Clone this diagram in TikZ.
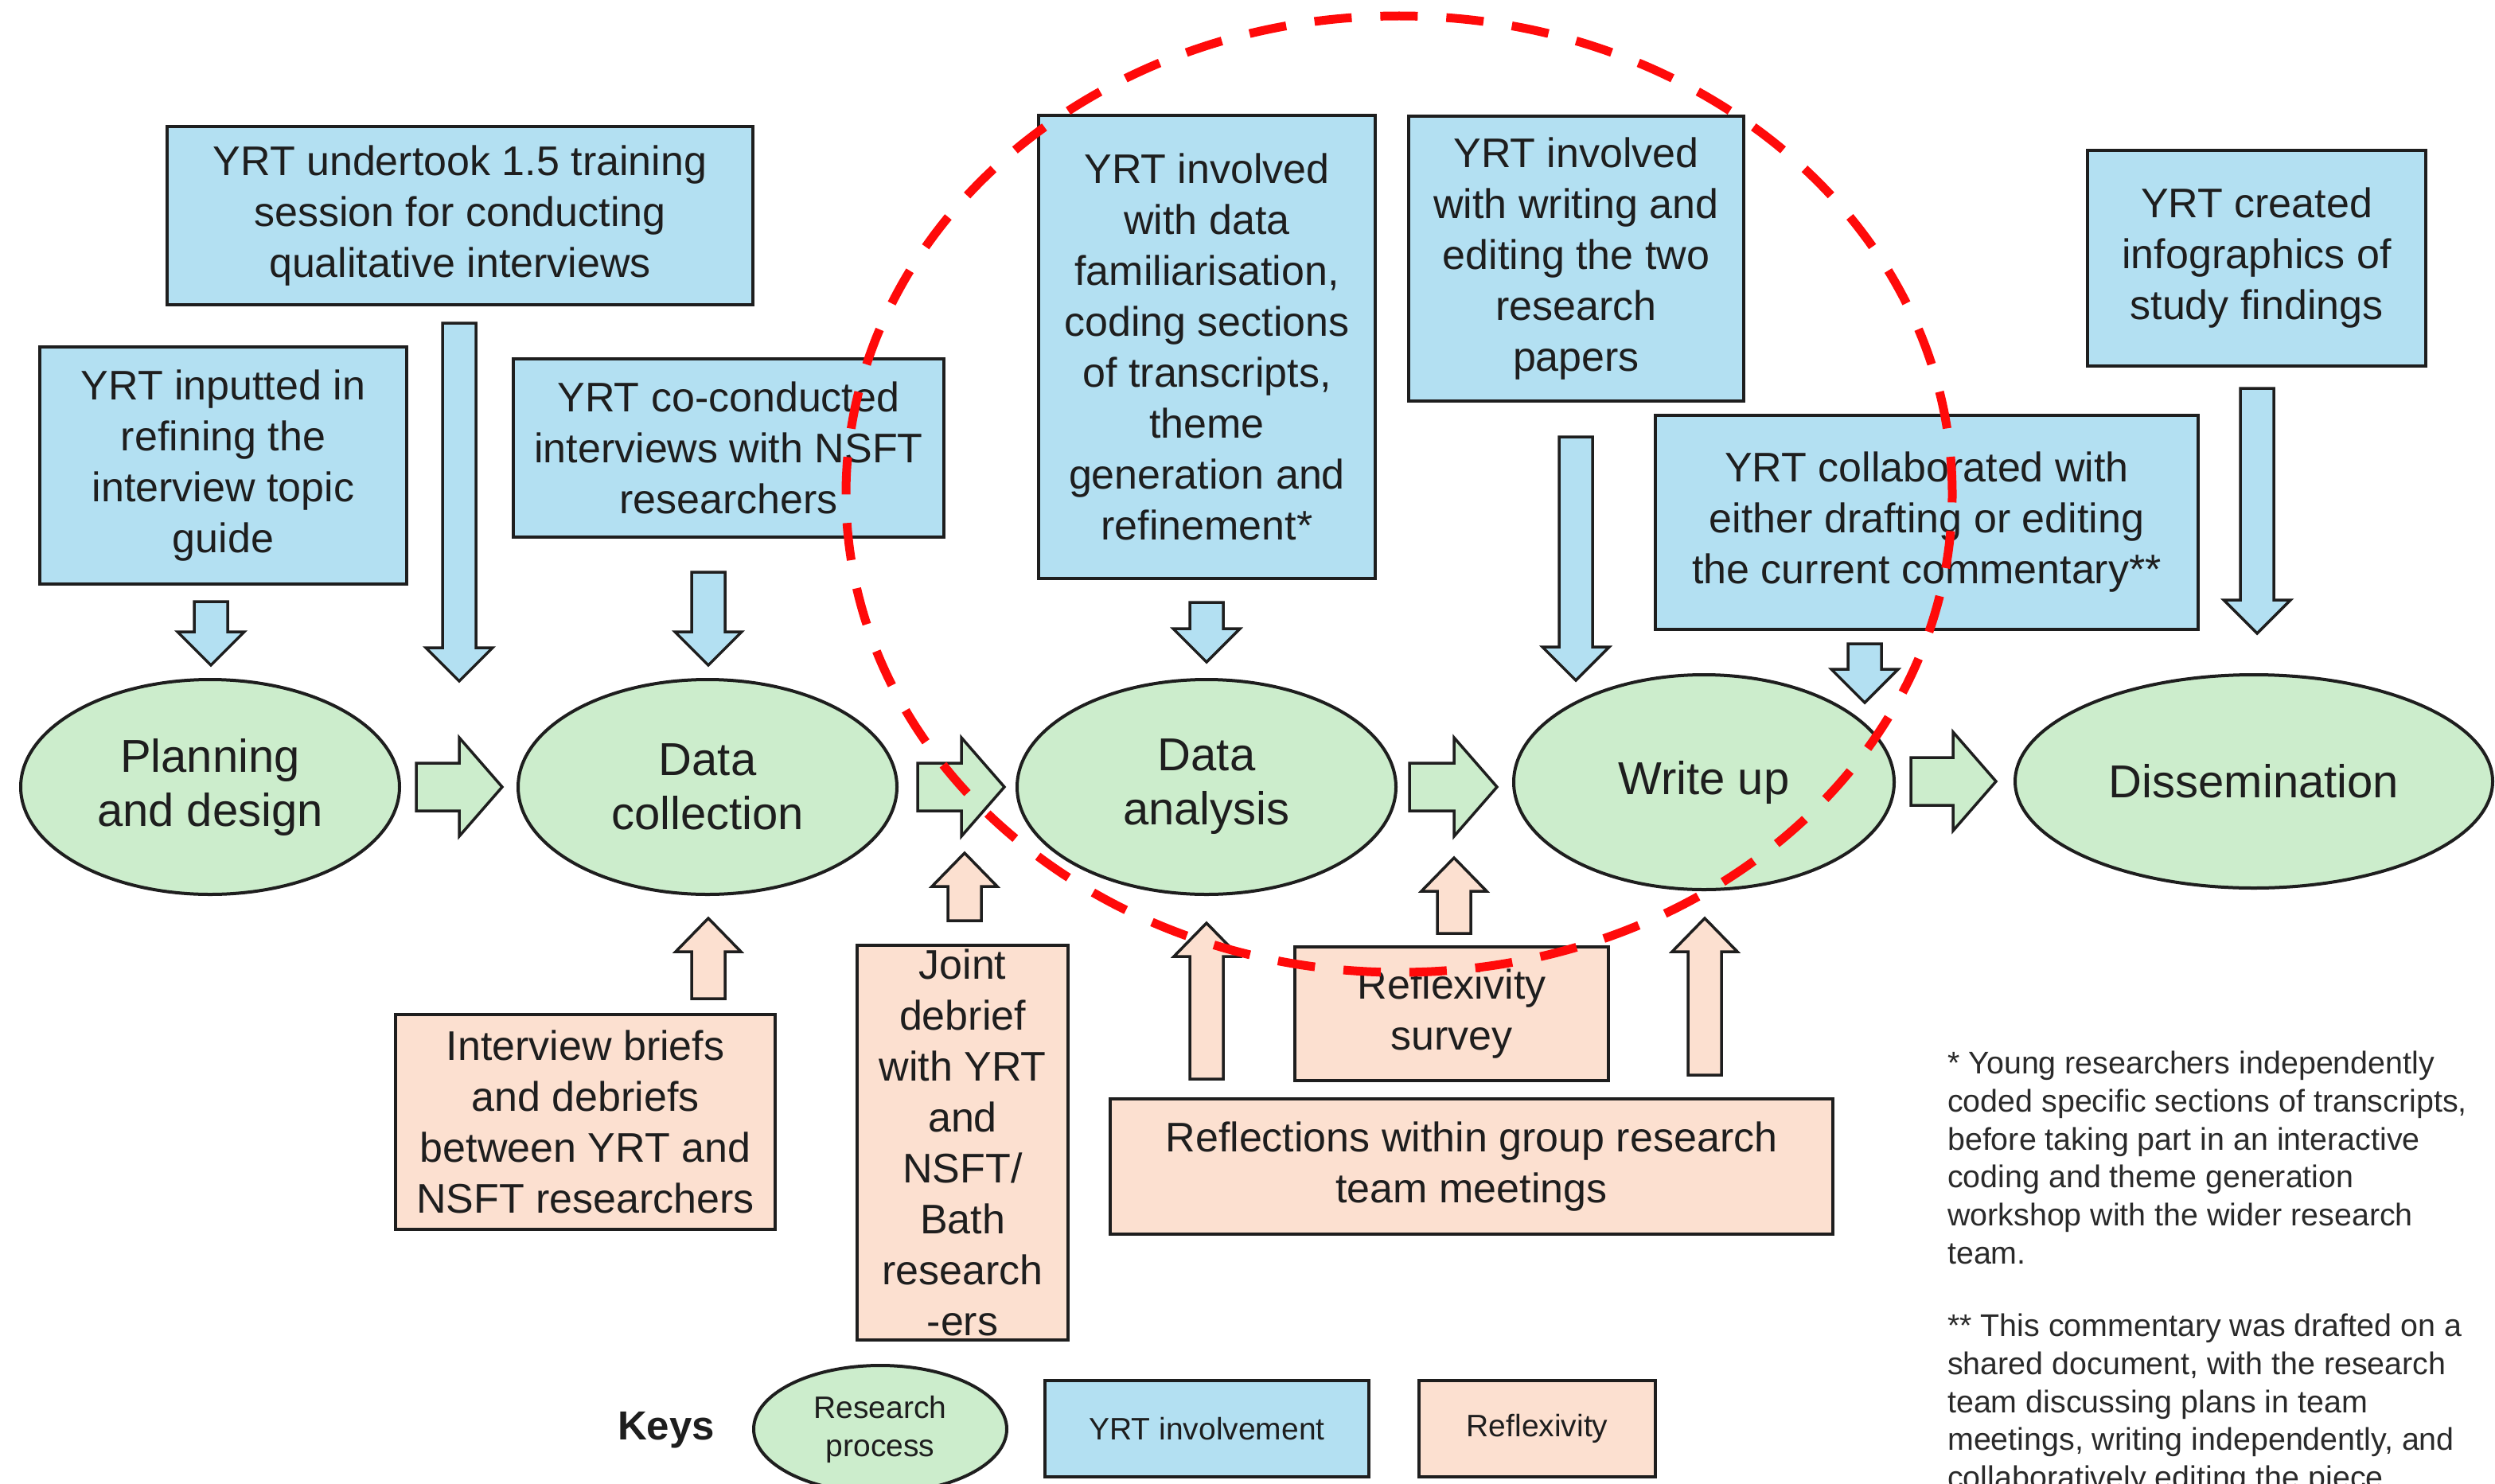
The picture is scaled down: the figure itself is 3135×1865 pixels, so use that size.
\documentclass[tikz,border=0pt]{standalone}
\usepackage{fontspec}
\setmainfont{Liberation Sans}
\usetikzlibrary{shapes.geometric,calc}
\definecolor{yrtblue}{HTML}{B3E0F2}
\definecolor{resgreen}{HTML}{CCEDCC}
\definecolor{refpeach}{HTML}{FCE0D0}
\definecolor{inkc}{HTML}{1E1E1E}
\definecolor{notec}{HTML}{2A2A2A}
\definecolor{dashred}{HTML}{FF0A0A}
% #1 start, #2 tip, #3 shaft half width, #4 head half width, #5 head length, #6 style
\newcommand{\blockarrow}[6]{%
  \coordinate (hb) at ($(#2)!#5!(#1)$);
  \draw[#6] ($(#1)!#3!90:(#2)$) -- ($(hb)!#3!90:(#2)$) -- ($(hb)!#4!90:(#2)$) -- (#2)
    -- ($(hb)!#4!-90:(#2)$) -- ($(hb)!#3!-90:(#2)$) -- ($(#1)!#3!-90:(#2)$) -- cycle;}
\begin{document}
\begin{tikzpicture}[x=1pt,y=-1pt,
  boxbase/.style={rectangle, draw=inkc, line width=4pt, inner sep=0pt, align=center, text=inkc, font=\fontsize{52}{64}\selectfont},
  yrtbox/.style={boxbase, fill=yrtblue},
  refbox/.style={boxbase, fill=refpeach},
  stage/.style={ellipse, draw=inkc, line width=4pt, fill=resgreen, inner sep=0pt, align=center, text=inkc, font=\fontsize{58}{68}\selectfont},
  barrow/.style={draw=inkc, line width=3.5pt, line join=miter},
  notetext/.style={anchor=north west, inner sep=0pt, align=left, text=notec, font=\fontsize{39.4}{47.7}\selectfont},
  redring/.style={draw=dashred, line width=11pt, dash pattern=on 47pt off 36pt}
]
\useasboundingbox (0,0) rectangle (3135,1865);
\clip (0,0) rectangle (3135,1865);
\fill[white] (0,0) rectangle (3135,1865);

% YRT involvement boxes
\node[yrtbox, minimum width=736pt, minimum height=224pt] (B1) at (578,271) {YRT undertook 1.5 training\\session for conducting\\qualitative interviews};
\node[yrtbox, minimum width=461pt, minimum height=298pt] (B2) at (280.5,585) {YRT inputted in\\refining the\\interview topic\\guide};
\node[yrtbox, minimum width=541pt, minimum height=224pt] (B3) at (915.5,563) {YRT co-conducted\\interviews with NSFT\\researchers};
\node[yrtbox, minimum width=423pt, minimum height=582pt] (B4) at (1516.5,436) {YRT involved\\with data\\familiarisation,\\coding sections\\of transcripts,\\theme\\generation and\\refinement*};
\node[yrtbox, minimum width=421pt, minimum height=358pt] (B5) at (1980.5,325) {YRT involved\\with writing and\\editing the two\\research\\papers};
\node[yrtbox, minimum width=682pt, minimum height=269pt] (B6) at (2421,656.5) {YRT collaborated with\\either drafting or editing\\the current commentary**};
\node[yrtbox, minimum width=425pt, minimum height=271pt] (B7) at (2835.5,324.5) {YRT created\\infographics of\\study findings};

% Research process stages
\node[stage, minimum width=476pt, minimum height=270pt] (E1) at (264,989) {Planning\\and design};
\node[stage, minimum width=476pt, minimum height=270pt] (E2) at (889,989) {Data\\collection};
\node[stage, minimum width=476pt, minimum height=270pt] (E3) at (1516,989) {Data\\analysis};
\node[stage, minimum width=478pt, minimum height=270pt] (E4) at (2141,983) {Write up};
\node[stage, minimum width=600pt, minimum height=268pt] (E5) at (2832,982) {Dissemination};

% Reflexivity boxes
\node[refbox, minimum width=477pt, minimum height=270pt] (P1) at (735.5,1410) {Interview briefs\\and debriefs\\between YRT and\\NSFT researchers};
\node[refbox, minimum width=265pt, minimum height=496pt] (P2) at (1209.5,1436) {Joint\\debrief\\with YRT\\and\\NSFT/\\Bath\\research\\-ers};
\node[refbox, minimum width=394pt, minimum height=168pt] (P3) at (1824,1274) {Reflexivity\\survey};
\node[refbox, minimum width=908pt, minimum height=170pt] (P4) at (1849,1466) {Reflections within group research\\team meetings};

% arrow end points
\coordinate (dA1s) at (265,756);  \coordinate (dA1e) at (265,836);
\coordinate (dA2s) at (577,406);  \coordinate (dA2e) at (577,856);
\coordinate (dA3s) at (890,719);  \coordinate (dA3e) at (890,836);
\coordinate (dA4s) at (1516,757); \coordinate (dA4e) at (1516,832);
\coordinate (dA5s) at (1980,549); \coordinate (dA5e) at (1980,855);
\coordinate (dA6s) at (2343,809); \coordinate (dA6e) at (2343,883);
\coordinate (dA7s) at (2836,488); \coordinate (dA7e) at (2836,796);
\coordinate (hA1s) at (523,989);  \coordinate (hA1e) at (631,989);
\coordinate (hA2s) at (1153,989); \coordinate (hA2e) at (1262,989);
\coordinate (hA3s) at (1771,989); \coordinate (hA3e) at (1881,989);
\coordinate (hA4s) at (2401,982); \coordinate (hA4e) at (2508,982);
\coordinate (uA1s) at (890,1255); \coordinate (uA1e) at (890,1154);
\coordinate (uA2s) at (1212,1157); \coordinate (uA2e) at (1212,1072);
\coordinate (uA3s) at (1516,1356); \coordinate (uA3e) at (1516,1160);
\coordinate (uA4s) at (1827,1173); \coordinate (uA4e) at (1827,1078);
\coordinate (uA5s) at (2142,1351); \coordinate (uA5e) at (2142,1154);

% down arrows (YRT involvement)
\blockarrow{dA1s}{dA1e}{21pt}{42pt}{42pt}{barrow, fill=yrtblue}
\blockarrow{dA2s}{dA2e}{21pt}{42pt}{42pt}{barrow, fill=yrtblue}
\blockarrow{dA3s}{dA3e}{21pt}{42pt}{42pt}{barrow, fill=yrtblue}
\blockarrow{dA4s}{dA4e}{21pt}{42pt}{42pt}{barrow, fill=yrtblue}
\blockarrow{dA5s}{dA5e}{21pt}{42pt}{42pt}{barrow, fill=yrtblue}
\blockarrow{dA6s}{dA6e}{21pt}{42pt}{42pt}{barrow, fill=yrtblue}
\blockarrow{dA7s}{dA7e}{21pt}{42pt}{42pt}{barrow, fill=yrtblue}
% process arrows
\blockarrow{hA1s}{hA1e}{30pt}{62pt}{54pt}{barrow, fill=resgreen}
\blockarrow{hA2s}{hA2e}{30pt}{62pt}{54pt}{barrow, fill=resgreen}
\blockarrow{hA3s}{hA3e}{30pt}{62pt}{54pt}{barrow, fill=resgreen}
\blockarrow{hA4s}{hA4e}{30pt}{62pt}{54pt}{barrow, fill=resgreen}
% up arrows (reflexivity)
\blockarrow{uA1s}{uA1e}{21pt}{41pt}{42pt}{barrow, fill=refpeach}
\blockarrow{uA2s}{uA2e}{21pt}{41pt}{42pt}{barrow, fill=refpeach}
\blockarrow{uA3s}{uA3e}{21pt}{41pt}{42pt}{barrow, fill=refpeach}
\blockarrow{uA4s}{uA4e}{21pt}{41pt}{42pt}{barrow, fill=refpeach}
\blockarrow{uA5s}{uA5e}{21pt}{41pt}{42pt}{barrow, fill=refpeach}

% keys
\node[text=inkc, font=\bfseries\fontsize{51}{60}\selectfont] (keys) at (837,1797) {Keys};
\node[stage, minimum width=318pt, minimum height=160pt, font=\fontsize{39}{48}\selectfont] (kE) at (1106,1796) {Research\\process};
\node[yrtbox, minimum width=407pt, minimum height=121pt, font=\fontsize{39}{48}\selectfont] (kB) at (1516.5,1795.5) {YRT involvement};
\node[refbox, minimum width=297pt, minimum height=121pt, font=\fontsize{39}{48}\selectfont] (kP) at (1931.5,1795.5) {Reflexivity};

% notes
\node[notetext] (note1) at (2447,1321) {* Young researchers independently\\coded specific sections of transcripts,\\before taking part in an interactive\\coding and theme generation\\workshop with the wider research\\team.};
\node[notetext] (note2) at (2447,1651) {** This commentary was drafted on a\\shared document, with the research\\team discussing plans in team\\meetings, writing independently, and\\collaboratively editing the piece};

% red dashed highlight
\draw[redring] (1758,621) ellipse [x radius=695pt, y radius=601pt];
\end{tikzpicture}
\end{document}
